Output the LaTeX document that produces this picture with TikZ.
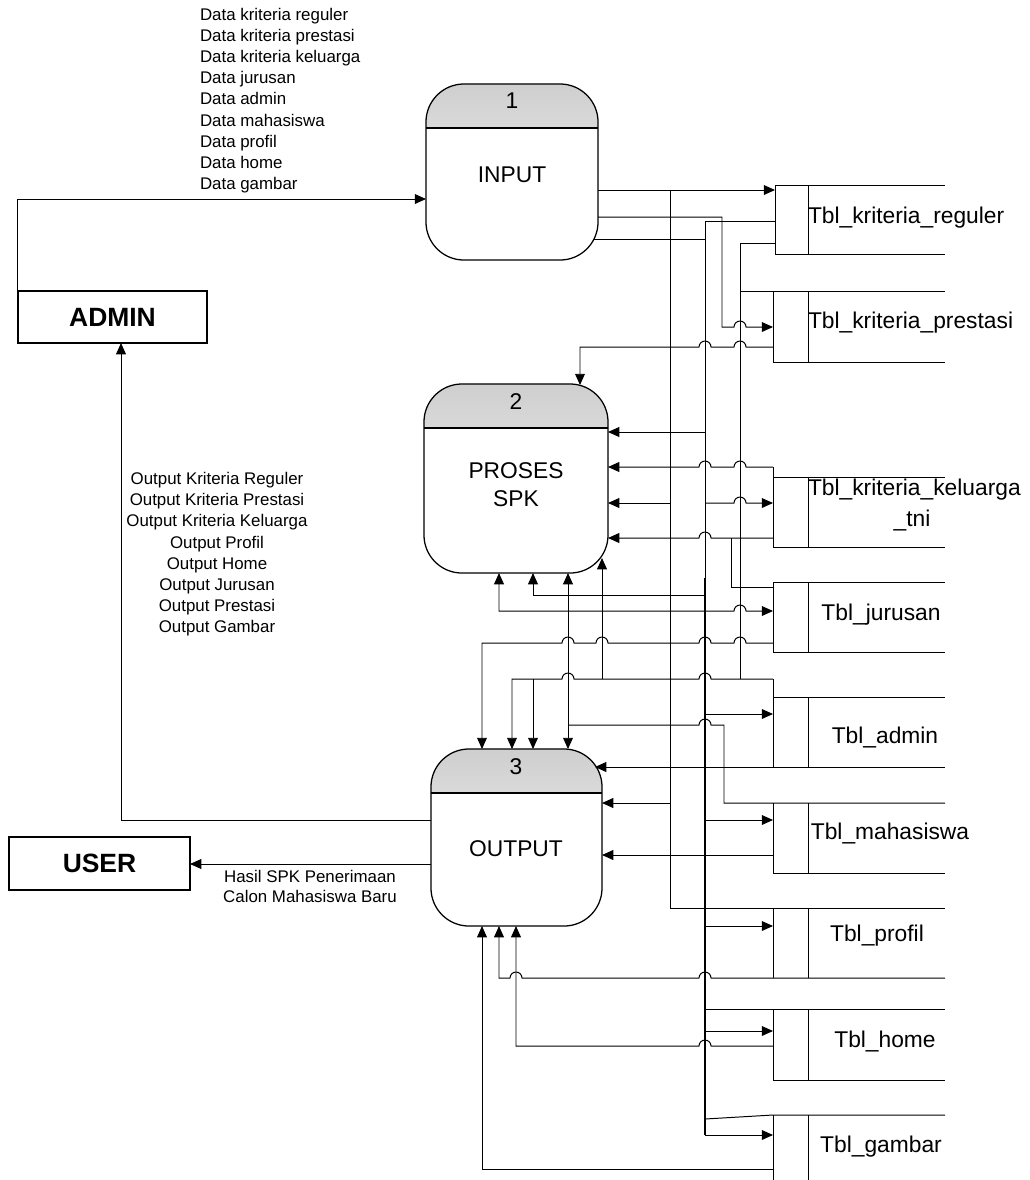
\documentclass[tikz,border=0pt]{standalone}
\usepackage{fontspec}
\setmainfont{Liberation Sans}
\usetikzlibrary{arrows.meta}
\newcommand\fsml{\fontsize{12}{14}\selectfont}
\newcommand\fmd{\fontsize{16.2}{19}\selectfont}
\newcommand\fbg{\fontsize{18.8}{22}\selectfont\bfseries}
\newcommand\JR[2]{\foreach \j in {#2}{ -- (\j-6,#1) arc[start angle=180,end angle=0,radius=0.15cm]}}
\newcommand\JL[2]{\foreach \j in {#2}{ -- (\j+6,#1) arc[start angle=0,end angle=180,radius=0.15cm]}}
\begin{document}
\begin{tikzpicture}[x=0.025cm,y=-0.025cm,
  ln/.style={draw=black,line width=0.7pt},
  arr/.style={ln,-{Triangle[length=8pt,width=7pt]}},
  barr/.style={ln,{Triangle[length=8pt,width=7pt]}-{Triangle[length=8pt,width=7pt]}},
  txt/.style={inner sep=0pt,outer sep=0pt,text height=0.72em,text depth=0.21em},
  ent/.style={draw=black,line width=0.9pt,inner sep=0pt,outer sep=0pt,fill=white},
  proc/.style={draw=black,line width=0.9pt,rounded corners=0.95cm,inner sep=0pt,outer sep=0pt,fill=white,
    path picture={\shade[sharp corners,top color=gray!38,bottom color=gray!4]
      (path picture bounding box.north west) rectangle ([yshift=-1.1cm]path picture bounding box.north east);
      \draw[sharp corners,line width=0.9pt] ([yshift=-1.1cm]path picture bounding box.north west) -- ([yshift=-1.1cm]path picture bounding box.north east);}},
  store/.style={draw=black,line width=0.7pt}
]
\useasboundingbox (0,0) rectangle (1030,1180);

% ---------- processes ----------
\node[proc,minimum width=4.3cm,minimum height=4.4cm] (p1) at (512,172) {};
\node[txt,font=\fmd] (p1n) at (512,105) {1};
\node[txt,font=\fmd] (p1t) at (512,179) {INPUT};

\node[proc,minimum width=4.6cm,minimum height=4.725cm] (p2) at (516,478.5) {};
\node[txt,font=\fmd] (p2n) at (516,406) {2};
\node[txt,font=\fmd] (p2t) at (516,475) {PROSES};
\node[txt,font=\fmd] (p2u) at (516,503) {SPK};

\node[proc,minimum width=4.275cm,minimum height=4.425cm] (p3) at (516.5,837.5) {};
\node[txt,font=\fmd] (p3n) at (516,771) {3};
\node[txt,font=\fmd] (p3t) at (516,853) {OUTPUT};

% ---------- entities ----------
\node[ent,minimum width=4.725cm,minimum height=1.3cm,font=\fbg] (admin) at (112.5,317) {ADMIN};
\node[ent,minimum width=4.525cm,minimum height=1.325cm,font=\fbg] (user) at (99.5,863.5) {USER};

% ---------- labels ----------
\foreach \t [count=\i] in {Data kriteria reguler,Data kriteria prestasi,Data kriteria keluarga,Data jurusan,Data admin,Data mahasiswa,Data profil,Data home,Data gambar}
  \node[txt,font=\fsml,anchor=west] (dl\i) at (200,{17+21.1*(\i-1)}) {\t};
\foreach \t [count=\i] in {Output Kriteria Reguler,Output Kriteria Prestasi,Output Kriteria Keluarga,Output Profil,Output Home,Output Jurusan,Output Prestasi,Output Gambar}
  \node[txt,font=\fsml] (ol\i) at (217,{481+21.15*(\i-1)}) {\t};
\node[txt,font=\fsml] (h1) at (310,879) {Hasil SPK Penerimaan};
\node[txt,font=\fsml] (h2) at (310,899) {Calon Mahasiswa Baru};

% ---------- data stores ----------
\draw[store] (945,185) -- (775,185) -- (775,254) -- (945,254);
\draw[store] (808,185) -- (808,254);
\node[txt,font=\fmd,anchor=west] (s1) at (808,220) {Tbl\_kriteria\_reguler};

\draw[store] (740,291) -- (945,291);
\draw[store] (773,291) -- (773,362) -- (945,362);
\draw[store] (808,291) -- (808,362);
\node[txt,font=\fmd,anchor=west] (s2) at (808,325) {Tbl\_kriteria\_prestasi};

\draw[store] (773,467) -- (773,547) -- (945,547);
\draw[store] (773,477) -- (945,477);
\draw[store] (808,477) -- (808,547);
\node[txt,font=\fmd,anchor=west] (s3) at (808,492) {Tbl\_kriteria\_keluarga};
\node[txt,font=\fmd] (s3b) at (912,523) {\_tni};

\draw[store] (945,582) -- (773,582) -- (773,652) -- (945,652);
\draw[store] (808,582) -- (808,652);
\node[txt,font=\fmd] (s4) at (881,617) {Tbl\_jurusan};

\draw[store] (773,697) -- (945,697);
\draw[store] (773,679) -- (773,767);
\draw[store] (808,697) -- (808,767);
\node[txt,font=\fmd] (s5) at (885,740) {Tbl\_admin};

\draw[store] (773,803) -- (773,873) -- (945,873);
\draw[store] (808,803) -- (808,873);
\node[txt,font=\fmd] (s6) at (890,836) {Tbl\_mahasiswa};

\draw[store] (773,908) -- (773,978);
\draw[store] (808,908) -- (808,978);
\node[txt,font=\fmd] (s7) at (877,938) {Tbl\_profil};

\draw[store] (945,1009) -- (705,1009);
\draw[store] (773,1009) -- (773,1080) -- (945,1080);
\draw[store] (808,1009) -- (808,1080);
\node[txt,font=\fmd] (s8) at (885,1044) {Tbl\_home};

\draw[store] (705,1119) -- (773,1115) -- (945,1115);
\draw[store] (773,1115) -- (773,1180);
\draw[store] (808,1115) -- (808,1180);
\node[txt,font=\fmd] (s9) at (881,1149) {Tbl\_gambar};

% ---------- connectors ----------
\draw[arr] (admin.north west) |- (426,199);
\draw[arr] (431,820) -| (admin.south -| 121,343);
\draw[arr] (431,864) -- (user.east |- 190,864);

\draw[arr] (598,190) -- (775,190);
\draw[ln] (670,190) -- (670,908) -- (945,908);
\draw[arr] (598,217) -- (722,217) -- (722,327) \JR{327}{740} -- (773,327);
\draw[ln] (594,239) -- (705,239);
\draw[arr] (775,221) -- (705,221) -- (705,1135) -- (773,1135);
\draw[ln,line width=1.1pt] (705,578) -- (705,1135);
\draw[ln] (775,243) -- (740,243) -- (740,679);

\draw[arr] (773,347) \JL{347}{740,705} -- (580,347) -- (580,385);
\draw[arr] (705,432) -- (608,432);
\draw[arr] (773,467) \JL{467}{740,705} -- (608,467);
\draw[arr] (670,503) -- (608,503);
\draw[arr] (705,503) \JR{503}{740} -- (773,503);
\draw[arr] (773,538) \JL{538}{705} -- (608,538);
\draw[ln] (731,538) -- (731,587) -- (773,587);
\draw[barr] (499,573) -- (499,611) \JR{611}{740} -- (773,611);
\draw[arr] (705,595) -- (533,595) -- (533,573);
\draw[barr] (568,573) -- (568,749);
\draw[ln] (568,725) \JR{725}{705} -- (724,725) -- (724,803) -- (945,803);
\draw[arr] (773,643) \JL{643}{740,705,602,568} -- (482,643) -- (482,749);
\draw[arr] (773,679) \JL{679}{705,568} -- (512,679) -- (512,749);
\draw[arr] (533,679) -- (533,749);
\draw[arr] (602,679) -- (602,558);
\draw[arr] (705,714) -- (773,714);
\draw[arr] (945,767) -- (595,767);
\draw[arr] (670,803) -- (602,803);
\draw[arr] (705,820) -- (773,820);
\draw[arr] (773,855) -- (602,855);
\draw[arr] (705,926) -- (773,926);
\draw[arr] (945,978) \JL{978}{705,516} -- (499,978) -- (499,926);
\draw[arr] (705,1031) -- (773,1031);
\draw[arr] (773,1046) \JL{1046}{705} -- (516,1046) -- (516,926);
\draw[arr] (773,1169) -- (482,1169) -- (482,926);
\end{tikzpicture}
\end{document}
